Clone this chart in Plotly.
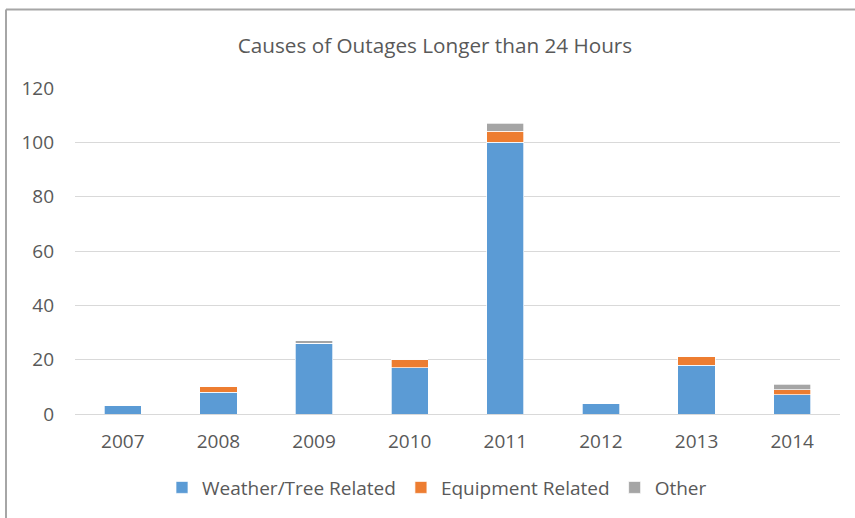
import plotly.graph_objects as go

years = ["2007", "2008", "2009", "2010", "2011", "2012", "2013", "2014"]
weather_tree = [3, 8, 26, 17, 100, 4, 18, 7]
equipment = [0, 2, 0, 3, 4, 0, 3, 2]
other = [0, 0, 1, 0, 3, 0, 0, 2]

series = [
    ("Weather/Tree Related", weather_tree, "#5B9BD5"),
    ("Equipment Related", equipment, "#ED7D31"),
    ("Other", other, "#A5A5A5"),
]

FONT = "Open Sans"
GREY = "#595959"

W, H = 855, 518
L, R, T, B = 75, 15, 88, 102
PW, PH = W - L - R, H - T - B

fig = go.Figure()
for name, vals, color in series:
    fig.add_trace(go.Bar(
        x=years, y=vals, name=name,
        marker=dict(color=color, line=dict(color="#FFFFFF", width=0.7)),
        width=0.39,
    ))

border = dict(color="#A6A6A6", width=2)
fig.update_layout(
    barmode="stack",
    width=W, height=H,
    margin=dict(l=L, r=R, t=T, b=B),
    paper_bgcolor="white", plot_bgcolor="white",
    font=dict(family=FONT, size=19, color=GREY),
    title=dict(text="Causes of Outages Longer than 24 Hours",
               x=435 / W, xanchor="center", y=1 - 46 / H, yanchor="middle",
               font=dict(family=FONT, size=20.7, color=GREY)),
    showlegend=True,
    legend=dict(orientation="h", x=(437 - L) / PW, xanchor="center",
                y=(H - B - 490) / PH, yanchor="middle",
                font=dict(family=FONT, size=19, color=GREY), traceorder="normal",
                itemwidth=30),
    xaxis=dict(showgrid=False, showline=False, ticks="", ticklabelstandoff=14,
               tickfont=dict(size=19, color=GREY)),
    yaxis=dict(range=[0, 120], dtick=20, showgrid=True, gridcolor="#D9D9D9", gridwidth=1,
               zeroline=True, zerolinecolor="#D9D9D9", zerolinewidth=1,
               showline=False, ticks="", ticklabelstandoff=20,
               tickfont=dict(size=19, color=GREY)),
    shapes=[
        dict(type="line", xref="paper", yref="paper",
             x0=(6 - L) / PW, x1=(6 - L) / PW, y0=(H - B - 9) / PH, y1=(H - B - 530) / PH,
             line=border, layer="below"),
        dict(type="line", xref="paper", yref="paper",
             x0=(6 - L) / PW, x1=(870 - L) / PW, y0=(H - B - 9) / PH, y1=(H - B - 9) / PH,
             line=border, layer="below"),
    ],
)

fig.write_html("out.html",
               config={"displayModeBar": False},
               post_script="document.body.style.margin='0';document.body.style.overflow='hidden';")
